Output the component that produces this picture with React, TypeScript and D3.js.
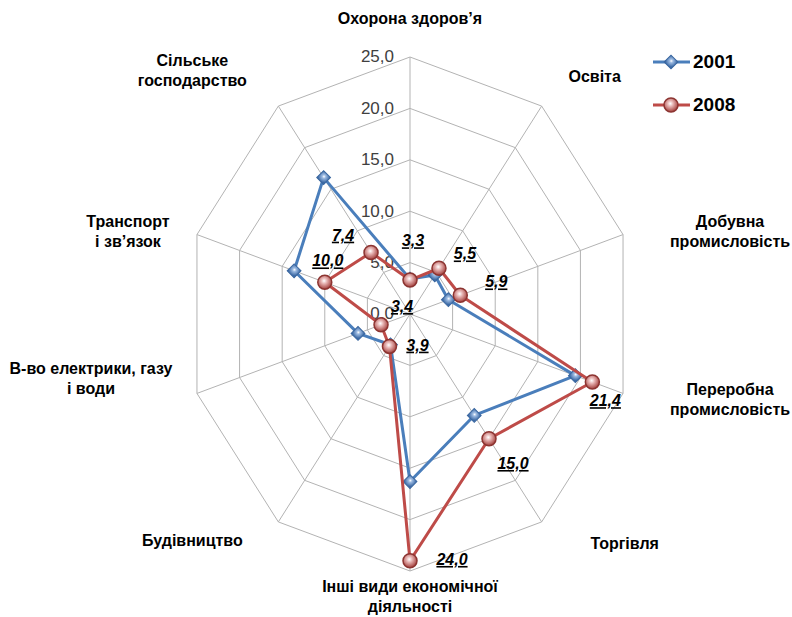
import React, { useRef, useEffect } from 'react';
import * as d3 from 'd3';

const CATEGORIES = [
  ['Охорона здоров’я'],
  ['Освіта'],
  ['Добувна', 'промисловість'],
  ['Переробна', 'промисловість'],
  ['Торгівля'],
  ['Інші види економічної', 'діяльності'],
  ['Будівництво'],
  ['В-во електрики, газу', 'і води'],
  ['Транспорт', 'і зв’язок'],
  ['Сільське', 'господарство'],
];
const VALUES_2001 = [3.4, 4.7, 4.5, 19.4, 12.2, 16.3, 3.7, 6.1, 13.6, 16.4];
const VALUES_2008 = [3.3, 5.5, 5.9, 21.4, 15.0, 24.0, 3.9, 3.4, 10.0, 7.4];
const TICKS = [0, 5, 10, 15, 20, 25];
const SERIES = ['2001', '2008'];

// label placement (px offsets from outer vertex / from the point)
const CAT_OFFSETS = [[0, -37], [53, -28], [107, -12], [107, -3], [83, 23], [0, 17], [-86, 20], [-106, -24], [-69, -12], [-86, -44]];
const VAL_OFFSETS = [[3, -38], [26, -13], [36, -12], [13, 20], [24, 26], [42, 0], [28, 0], [21, -17], [3, -20], [-28, -16]];

const W = 792, H = 617;
const CX = 410, CY = 314, RX = 224, RY = 257;
const BLUE = '#4a7ebb', RED = '#be4b48';

export default function App() {
  const svgRef = useRef(null);

  useEffect(() => {
    const svg = d3.select(svgRef.current);
    svg.selectAll('*').remove();

    const n = CATEGORIES.length;
    const angle = d3.scaleLinear().domain([0, n]).range([0, 2 * Math.PI]);
    const rx = d3.scaleLinear().domain([0, 25]).range([0, RX]);
    const ry = d3.scaleLinear().domain([0, 25]).range([0, RY]);
    const px = (i, v) => CX + Math.sin(angle(i)) * rx(v);
    const py = (i, v) => CY - Math.cos(angle(i)) * ry(v);
    const fmt = v => d3.format('.1f')(v).replace('.', ',');

    const defs = svg.append('defs');
    const gb = defs.append('radialGradient').attr('id', 'gblue').attr('cx', '45%').attr('cy', '40%').attr('r', '60%');
    gb.append('stop').attr('offset', '0%').attr('stop-color', '#ffffff');
    gb.append('stop').attr('offset', '30%').attr('stop-color', '#9dbbe2');
    gb.append('stop').attr('offset', '100%').attr('stop-color', '#3d6aa5');
    const gr = defs.append('radialGradient').attr('id', 'gred').attr('cx', '45%').attr('cy', '40%').attr('r', '60%');
    gr.append('stop').attr('offset', '0%').attr('stop-color', '#ffffff');
    gr.append('stop').attr('offset', '35%').attr('stop-color', '#e6b3b2');
    gr.append('stop').attr('offset', '100%').attr('stop-color', '#a23d3a');

    // grid
    const grid = svg.append('g').attr('fill', 'none').attr('stroke', '#b3b3b3').attr('stroke-width', 1);
    TICKS.filter(t => t > 0).forEach(t => {
      grid.append('path')
        .attr('d', d3.line()(d3.range(n).map(i => [px(i, t), py(i, t)])) + 'Z');
    });
    d3.range(n).forEach(i => {
      grid.append('line')
        .attr('x1', CX).attr('y1', CY)
        .attr('x2', px(i, 25)).attr('y2', py(i, 25));
    });

    // tick labels
    svg.append('g')
      .selectAll('text')
      .data(TICKS)
      .join('text')
      .attr('x', 394)
      .attr('y', t => CY - ry(t) + 1)
      .attr('text-anchor', 'end')
      .attr('dominant-baseline', 'middle')
      .attr('fill', '#404040')
      .style('font-family', '"Liberation Sans", Arial, sans-serif')
      .style('font-size', '17px')
      .text(fmt);

    const drawMarkers = (g, pts, kind) => {
      if (kind === 'diamond') {
        g.selectAll('path')
          .data(pts)
          .join('path')
          .attr('d', d3.symbol(d3.symbolSquare, 95)())
          .attr('transform', d => `translate(${d[0]},${d[1]}) rotate(45)`)
          .attr('fill', 'url(#gblue)')
          .attr('stroke', '#3a67a0')
          .attr('stroke-width', 1);
      } else {
        g.selectAll('circle')
          .data(pts)
          .join('circle')
          .attr('cx', d => d[0]).attr('cy', d => d[1])
          .attr('r', 7)
          .attr('fill', 'url(#gred)')
          .attr('stroke', '#8c3431')
          .attr('stroke-width', 1.5);
      }
    };

    const drawSeries = (vals, color, kind) => {
      const pts = vals.map((v, i) => [px(i, v), py(i, v)]);
      svg.append('path')
        .attr('d', d3.line()(pts) + 'Z')
        .attr('fill', 'none')
        .attr('stroke', color)
        .attr('stroke-width', 3)
        .attr('stroke-linejoin', 'round');
      drawMarkers(svg.append('g'), pts, kind);
    };

    drawSeries(VALUES_2001, BLUE, 'diamond');
    drawSeries(VALUES_2008, RED, 'circle');

    // value labels (2008)
    svg.append('g')
      .selectAll('text')
      .data(VALUES_2008)
      .join('text')
      .attr('x', (v, i) => px(i, v) + VAL_OFFSETS[i][0])
      .attr('y', (v, i) => py(i, v) + VAL_OFFSETS[i][1])
      .attr('text-anchor', 'middle')
      .attr('dominant-baseline', 'middle')
      .attr('fill', '#000')
      .style('font-family', '"Liberation Sans", Arial, sans-serif')
      .style('font-size', '16px')
      .style('font-weight', 'bold')
      .style('font-style', 'italic')
      .style('text-decoration', 'underline')
      .text(fmt);

    // category labels
    const cat = svg.append('g')
      .selectAll('text')
      .data(CATEGORIES)
      .join('text')
      .attr('text-anchor', 'middle')
      .attr('fill', '#000')
      .style('font-family', '"Liberation Sans", Arial, sans-serif')
      .style('font-size', '16px')
      .style('font-weight', 'bold');
    cat.each(function (lines, i) {
      const x = px(i, 25) + CAT_OFFSETS[i][0];
      const y = py(i, 25) + CAT_OFFSETS[i][1];
      d3.select(this).selectAll('tspan')
        .data(lines)
        .join('tspan')
        .attr('x', x)
        .attr('y', (l, j) => y + j * 20)
        .attr('dominant-baseline', 'middle')
        .text(l => l);
    });

    // legend
    const leg = svg.append('g');
    SERIES.forEach((s, k) => {
      const y = 62 + k * 43;
      const color = k === 0 ? BLUE : RED;
      leg.append('line')
        .attr('x1', 653).attr('x2', 690).attr('y1', y).attr('y2', y)
        .attr('stroke', color).attr('stroke-width', 3);
      drawMarkers(leg.append('g'), [[671, y]], k === 0 ? 'diamond' : 'circle');
      leg.append('text')
        .attr('x', 693).attr('y', y + 1)
        .attr('dominant-baseline', 'middle')
        .style('font-family', '"Liberation Sans", Arial, sans-serif')
        .style('font-size', '19px')
        .style('font-weight', 'bold')
        .text(s);
    });
  }, []);

  return (
    <div style={{ position: 'absolute', left: 0, top: 0, width: W, height: H, background: '#fff' }}>
      <svg ref={svgRef} width={W} height={H} style={{ display: 'block' }} />
    </div>
  );
}
